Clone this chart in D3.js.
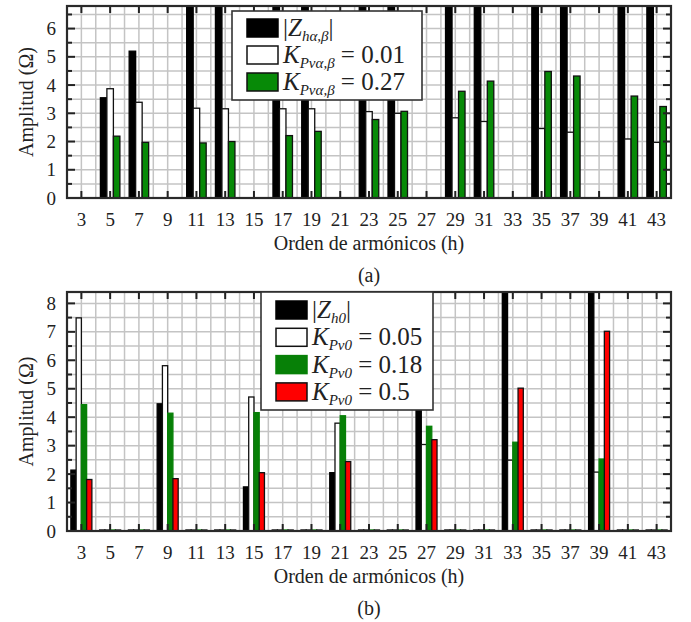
<!DOCTYPE html>
<html>
<head>
<meta charset="utf-8">
<script src="https://cdn.jsdelivr.net/npm/d3@7.9.0/dist/d3.min.js"></script>
<style>
  body { margin: 0; background: #fff; }
  svg text { font-family: "Liberation Serif", "DejaVu Serif", serif; fill: #222; }
</style>
</head>
<body>
<svg id="fig" width="691" height="622"></svg>
<script>
// harmonic orders on the x axis
const harmonics = d3.range(3, 44, 2);

// (a) alpha-beta impedances (values above the axis top are clipped)
const zhAB  = { 5: 3.55, 7: 5.2, 11: 9, 13: 9, 17: 9, 19: 9, 23: 9, 25: 9, 29: 9, 31: 9, 35: 9, 37: 9, 41: 9, 43: 9 };
const kpAB1 = { 5: 3.87, 7: 3.39, 11: 3.18, 13: 3.16, 17: 3.16, 19: 3.16, 23: 3.06, 25: 3.0, 29: 2.84, 31: 2.71, 35: 2.46, 37: 2.33, 41: 2.09, 43: 1.97 };
const kpAB2 = { 5: 2.19, 7: 1.97, 11: 1.95, 13: 2.0, 17: 2.21, 19: 2.36, 23: 2.78, 25: 3.07, 29: 3.78, 31: 4.14, 35: 4.48, 37: 4.32, 41: 3.61, 43: 3.24 };

// (b) zero sequence impedances
const zh0  = { 3: 2.14, 9: 4.47, 15: 1.55, 21: 2.05, 27: 10, 33: 10, 39: 10 };
const kp01 = { 3: 7.49, 9: 5.81, 15: 4.71, 21: 3.79, 27: 3.04, 33: 2.49, 39: 2.07 };
const kp02 = { 3: 4.44, 9: 4.14, 15: 4.16, 21: 4.05, 27: 3.68, 33: 3.12, 39: 2.53 };
const kp03 = { 3: 1.81, 9: 1.84, 15: 2.05, 21: 2.44, 27: 3.21, 33: 5.02, 39: 7.02 };

const svg = d3.select('#fig');
const left = 67, right = 671;

function drawPanel(opt) {
  const { top, bottom, yMax, yTicks, series, groupW, legend, id, zeroAll } = opt;
  const g = svg.append('g');

  const x = d3.scaleBand().domain(harmonics).range([left, right]);
  const y = d3.scaleLinear().domain([0, yMax]).range([bottom, top]);
  const xi = d3.scaleBand().domain(series.map(s => s.name)).range([0, groupW]);

  // grid
  const half = d3.range(0.5, yMax, 0.5);
  g.append('g').selectAll('line').data(half).join('line')
    .attr('x1', left).attr('x2', right)
    .attr('y1', d => y(d)).attr('y2', d => y(d))
    .attr('stroke', '#c4c4c4').attr('stroke-width', 1.5);
  const vx = [];
  harmonics.forEach(h => { vx.push(x(h)); vx.push(x(h) + x.bandwidth() / 2); });
  g.append('g').selectAll('line').data(vx.filter(v => v > left + 1)).join('line')
    .attr('x1', d => d).attr('x2', d => d)
    .attr('y1', top).attr('y2', bottom)
    .attr('stroke', '#c4c4c4').attr('stroke-width', 1.5);

  // bars
  svg.append('clipPath').attr('id', id)
    .append('rect').attr('x', left).attr('y', top).attr('width', right - left).attr('height', bottom - top);
  const bars = g.append('g').attr('clip-path', `url(#${id})`);
  series.forEach(s => {
    const vals = harmonics
      .filter(h => s.values[h] !== undefined || zeroAll)
      .map(h => ({ h, v: s.values[h] || 0 }));
    bars.append('g').selectAll('rect').data(vals).join('rect')
      .attr('x', d => x(d.h) + (x.bandwidth() - groupW) / 2 + xi(s.name))
      .attr('width', xi.bandwidth())
      .attr('y', d => y(d.v) - (d.v === 0 ? 1 : 0))
      .attr('height', d => Math.max(y(0) - y(d.v), 1))
      .attr('fill', s.fill)
      .attr('stroke', s.stroke)
      .attr('stroke-width', 1.3);
  });

  // ticks
  const tk = g.append('g').attr('stroke', '#222').attr('stroke-width', 2);
  harmonics.forEach(h => {
    const cx = x(h) + x.bandwidth() / 2;
    tk.append('line').attr('x1', cx).attr('x2', cx).attr('y1', top).attr('y2', top + 7);
    tk.append('line').attr('x1', cx).attr('x2', cx).attr('y1', bottom).attr('y2', bottom - 7);
  });
  half.forEach(v => {
    const len = Number.isInteger(v) ? 8 : 5;
    tk.append('line').attr('x1', left).attr('x2', left + len).attr('y1', y(v)).attr('y2', y(v));
    tk.append('line').attr('x1', right).attr('x2', right - len).attr('y1', y(v)).attr('y2', y(v));
  });

  // frame
  g.append('rect').attr('x', left).attr('y', top)
    .attr('width', right - left).attr('height', bottom - top)
    .attr('fill', 'none').attr('stroke', '#2a2a2a').attr('stroke-width', 2.2);

  // axes labels
  const xAxis = d3.axisBottom(x).tickSize(0).tickPadding(15);
  const ax = g.append('g').attr('transform', `translate(0,${bottom})`).call(xAxis);
  ax.select('.domain').remove();
  ax.selectAll('text').attr('font-size', 19);

  const yAxis = d3.axisLeft(y).tickValues(yTicks).tickFormat(d3.format('d')).tickSize(0).tickPadding(11);
  const ay = g.append('g').attr('transform', `translate(${left},0)`).call(yAxis);
  ay.select('.domain').remove();
  ay.selectAll('text').attr('font-size', 19);

  g.append('text')
    .attr('transform', `translate(33,${(top + bottom) / 2}) rotate(-90)`)
    .attr('text-anchor', 'middle').attr('font-size', 20)
    .text('Amplitud (Ω)');
  g.append('text')
    .attr('x', (left + right) / 2).attr('y', bottom + 52)
    .attr('text-anchor', 'middle').attr('font-size', 20)
    .text('Orden de armónicos (h)');
  g.append('text')
    .attr('x', (left + right) / 2).attr('y', bottom + 84)
    .attr('text-anchor', 'middle').attr('font-size', 20)
    .text(opt.caption);

  // legend
  const lg = g.append('g');
  lg.append('rect').attr('x', legend.x).attr('y', legend.y)
    .attr('width', legend.w).attr('height', legend.h)
    .attr('fill', '#fff').attr('stroke', '#333').attr('stroke-width', 1.6);
  series.forEach((s, i) => {
    const yy = legend.y + legend.first + i * legend.step;
    lg.append('rect').attr('x', legend.x + 15).attr('y', yy - 9)
      .attr('width', 31).attr('height', 18)
      .attr('fill', s.fill).attr('stroke', s.stroke).attr('stroke-width', 1.5);
    const t = lg.append('text').attr('x', legend.x + 51).attr('y', yy + 8).attr('font-size', 25);
    if (s.abs) {
      t.append('tspan').text('|');
      t.append('tspan').attr('font-style', 'italic').text(s.sym);
      t.append('tspan').attr('font-style', 'italic').attr('font-size', 15).attr('dy', 5).text(s.sub);
      t.append('tspan').attr('dy', -5).text('|');
    } else {
      t.append('tspan').attr('font-style', 'italic').text(s.sym);
      t.append('tspan').attr('font-style', 'italic').attr('font-size', 15).attr('dy', 5).text(s.sub);
      t.append('tspan').attr('dy', -5).text(' = ' + s.label);
    }
  });
}

drawPanel({
  id: 'clipA', top: 6, bottom: 198, yMax: 6.8, yTicks: d3.range(0, 7),
  groupW: 19.5, caption: '(a)',
  series: [
    { name: 'z', values: zhAB, fill: '#000', stroke: '#000', abs: true, sym: 'Z', sub: 'hα,β' },
    { name: 'k1', values: kpAB1, fill: '#fff', stroke: '#111', sym: 'K', sub: 'Pvα,β', label: '0.01' },
    { name: 'k2', values: kpAB2, fill: '#078a07', stroke: '#111', sym: 'K', sub: 'Pvα,β', label: '0.27' }
  ],
  legend: { x: 232, y: 11, w: 190, h: 89, first: 17, step: 27 }
});

drawPanel({
  id: 'clipB', top: 292, bottom: 531, yMax: 8.4, yTicks: d3.range(0, 9),
  groupW: 21, caption: '(b)', zeroAll: true,
  series: [
    { name: 'z', values: zh0, fill: '#000', stroke: '#000', abs: true, sym: 'Z', sub: 'h0' },
    { name: 'k1', values: kp01, fill: '#fff', stroke: '#111', sym: 'K', sub: 'Pv0', label: '0.05' },
    { name: 'k2', values: kp02, fill: '#078007', stroke: '#078007', sym: 'K', sub: 'Pv0', label: '0.18' },
    { name: 'k3', values: kp03, fill: '#ff0000', stroke: '#111', sym: 'K', sub: 'Pv0', label: '0.5' }
  ],
  legend: { x: 261, y: 292, w: 172, h: 118, first: 18, step: 27.3 }
});
</script>
</body>
</html>
